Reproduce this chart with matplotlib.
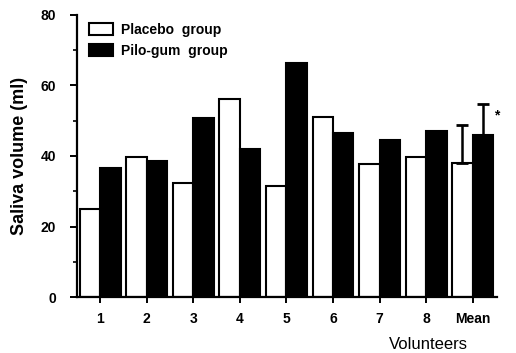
import matplotlib
matplotlib.use("Agg")
import matplotlib.pyplot as plt
import numpy as np

plt.rcParams['font.family'] = ['Liberation Sans', 'DejaVu Sans']

categories = ["1", "2", "3", "4", "5", "6", "7", "8", "Mean"]
placebo = [25.0, 39.7, 32.3, 56.2, 31.5, 51.1, 37.7, 39.7, 38.0]
pilo_gum = [36.6, 38.6, 50.8, 42.0, 66.4, 46.5, 44.5, 47.1, 46.0]
# error (SD) shown only for the mean bars
placebo_err = [0, 0, 0, 0, 0, 0, 0, 0, 10.8]
pilo_err = [0, 0, 0, 0, 0, 0, 0, 0, 8.8]
y_ticks = [0, 20, 40, 60, 80]

fig = plt.figure(figsize=(5.16, 3.53), dpi=100)
ax = fig.add_axes([0.149, 0.1586, 0.814, 0.799])

x = np.arange(1, len(categories) + 1)
w = 0.44

ax.bar(x - w / 2, placebo, w, color='white', edgecolor='black', linewidth=1.5,
       label='Placebo  group')
ax.bar(x + w / 2, pilo_gum, w, color='black', edgecolor='black', linewidth=1.5,
       label='Pilo-gum  group')

# upward-only error bars on the mean
i = len(categories) - 1
ax.errorbar([x[i] - w / 2], [placebo[i]], yerr=[[0], [placebo_err[i]]], fmt='none',
            ecolor='black', elinewidth=1.8, capsize=4, capthick=2)
ax.errorbar([x[i] + w / 2], [pilo_gum[i]], yerr=[[0], [pilo_err[i]]], fmt='none',
            ecolor='black', elinewidth=1.8, capsize=4, capthick=2)
ax.text(x[i] + 0.52, pilo_gum[i] + 5.5, '*', fontsize=10, fontweight='bold',
        ha='center', va='center')

ax.set_xlim(0.5, 9.52)
ax.set_ylim(0, 80)
ax.set_yticks(y_ticks)
ax.set_yticks(np.arange(10, 80, 20), minor=True)
ax.set_xticks(x)
ax.set_xticklabels(categories)

for s in ['top', 'right']:
    ax.spines[s].set_visible(False)
for s in ['left', 'bottom']:
    ax.spines[s].set_linewidth(1.6)

ax.tick_params(axis='y', which='major', length=5, width=1.4, labelsize=10, pad=10)
ax.tick_params(axis='y', which='minor', length=3, width=1.2)
ax.tick_params(axis='x', which='major', length=4, width=1.4, labelsize=10, pad=7)
for lab in ax.get_xticklabels() + ax.get_yticklabels():
    lab.set_fontweight('bold')

ax.set_ylabel('Saliva volume (ml)', fontsize=13, fontweight='bold', labelpad=9)
fig.text(0.830, 0.003, 'Volunteers', fontsize=12, ha='center', va='bottom')

leg = ax.legend(loc='upper left', bbox_to_anchor=(0.01, 1.0), frameon=False,
                prop={'weight': 'bold', 'size': 10}, handlelength=1.75,
                handleheight=0.95, handletextpad=0.6, labelspacing=0.5,
                borderaxespad=0.15)

fig.savefig('out.png', dpi=100)
